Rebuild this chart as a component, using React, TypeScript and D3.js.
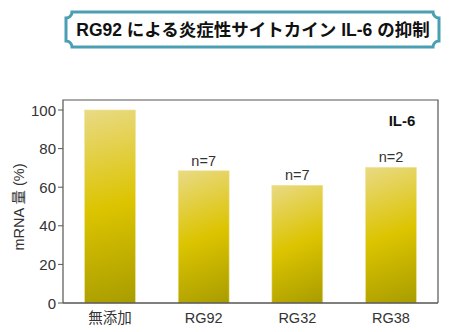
import * as d3 from "d3";

const categories = ["無添加", "RG92", "RG32", "RG38"];
const values = [100, 68.5, 61, 70.3];
const nLabels = ["", "n=7", "n=7", "n=2"];
const yTicks = [0, 20, 40, 60, 80, 100];

const W = 450;
const H = 332;
const PLOT = { left: 63, right: 438, top: 100, bottom: 303 };
const FONT = "'Liberation Sans', 'Noto Sans CJK JP', sans-serif";

const titleBox = (x0: number, y0: number, x1: number, y1: number, r: number) =>
  `M${x0 + r},${y0} L${x1 - r},${y0} A${r},${r} 0 0 0 ${x1},${y0 + r} ` +
  `L${x1},${y1 - r} A${r},${r} 0 0 0 ${x1 - r},${y1} L${x0 + r},${y1} ` +
  `A${r},${r} 0 0 0 ${x0},${y1 - r} L${x0},${y0 + r} A${r},${r} 0 0 0 ${x0 + r},${y0} Z`;

export default function App() {
  const x = d3
    .scaleBand()
    .domain(categories)
    .range([PLOT.left, PLOT.right])
    .paddingInner(0.456)
    .paddingOuter(0.23);

  const y = d3.scaleLinear().domain([0, 100]).range([PLOT.bottom, 110]);

  return (
    <svg
      width={W}
      height={H}
      style={{ position: "absolute", left: 0, top: 0, background: "#fff" }}
    >
      <defs>
        {categories.map((c, i) => {
          const bx = x(c) ?? 0;
          return (
            <linearGradient
              key={c}
              id={`barGrad${i}`}
              gradientUnits="userSpaceOnUse"
              x1={bx}
              y1={y(values[i])}
              x2={bx + x.bandwidth()}
              y2={y(0)}
            >
              <stop offset="0%" stopColor="#e9da84" />
              <stop offset="50%" stopColor="#dcc400" />
              <stop offset="100%" stopColor="#a89c00" />
            </linearGradient>
          );
        })}
      </defs>

      {/* title */}
      <path
        d={titleBox(66, 12, 439, 47, 6)}
        fill="#fff"
        stroke="#4aa0b2"
        strokeWidth={3}
      />
      <text
        x={253}
        y={30}
        textAnchor="middle"
        dominantBaseline="central"
        fontFamily={FONT}
        fontWeight="bold"
        fontSize={17.5}
        fill="#111"
      >
        RG92 による炎症性サイトカイン IL-6 の抑制
      </text>

      {/* frame */}
      <path
        d={`M${PLOT.left},${PLOT.bottom} L${PLOT.left},${PLOT.top} L${PLOT.right},${PLOT.top} L${PLOT.right},${PLOT.bottom}`}
        fill="none"
        stroke="#555"
        strokeWidth={1.2}
      />

      {/* bars */}
      {categories.map((c, i) => {
        const bx = x(c) ?? 0;
        return (
          <g key={c}>
            <rect
              x={bx}
              y={y(values[i])}
              width={x.bandwidth()}
              height={y(0) - y(values[i])}
              fill={`url(#barGrad${i})`}
              stroke="#efe49a"
              strokeWidth={0.6}
            />
            {nLabels[i] && (
              <text
                x={bx + x.bandwidth() / 2}
                y={y(values[i]) - 5}
                textAnchor="middle"
                fontFamily={FONT}
                fontSize={14.5}
                fill="#333"
              >
                {nLabels[i]}
              </text>
            )}
            <text
              x={bx + x.bandwidth() / 2}
              y={318}
              textAnchor="middle"
              dominantBaseline="central"
              fontFamily={FONT}
              fontSize={14.5}
              fill="#333"
            >
              {c}
            </text>
          </g>
        );
      })}

      {/* y axis */}
      <line
        x1={PLOT.left}
        x2={PLOT.right}
        y1={PLOT.bottom}
        y2={PLOT.bottom}
        stroke="#555"
        strokeWidth={1.5}
      />
      {yTicks.map((t) => (
        <g key={t}>
          <line
            x1={PLOT.left - 5}
            x2={PLOT.left}
            y1={y(t)}
            y2={y(t)}
            stroke="#555"
            strokeWidth={1}
          />
          <text
            x={PLOT.left - 7}
            y={y(t)}
            textAnchor="end"
            dominantBaseline="central"
            fontFamily={FONT}
            fontSize={15}
            fill="#333"
          >
            {t}
          </text>
        </g>
      ))}
      <text
        transform="translate(19,207) rotate(-90)"
        textAnchor="middle"
        dominantBaseline="central"
        fontFamily={FONT}
        fontSize={14.5}
        fill="#333"
      >
        mRNA 量 (%)
      </text>

      <text
        x={402}
        y={120}
        textAnchor="middle"
        dominantBaseline="central"
        fontFamily={FONT}
        fontWeight="bold"
        fontSize={15}
        fill="#111"
      >
        IL-6
      </text>
    </svg>
  );
}
